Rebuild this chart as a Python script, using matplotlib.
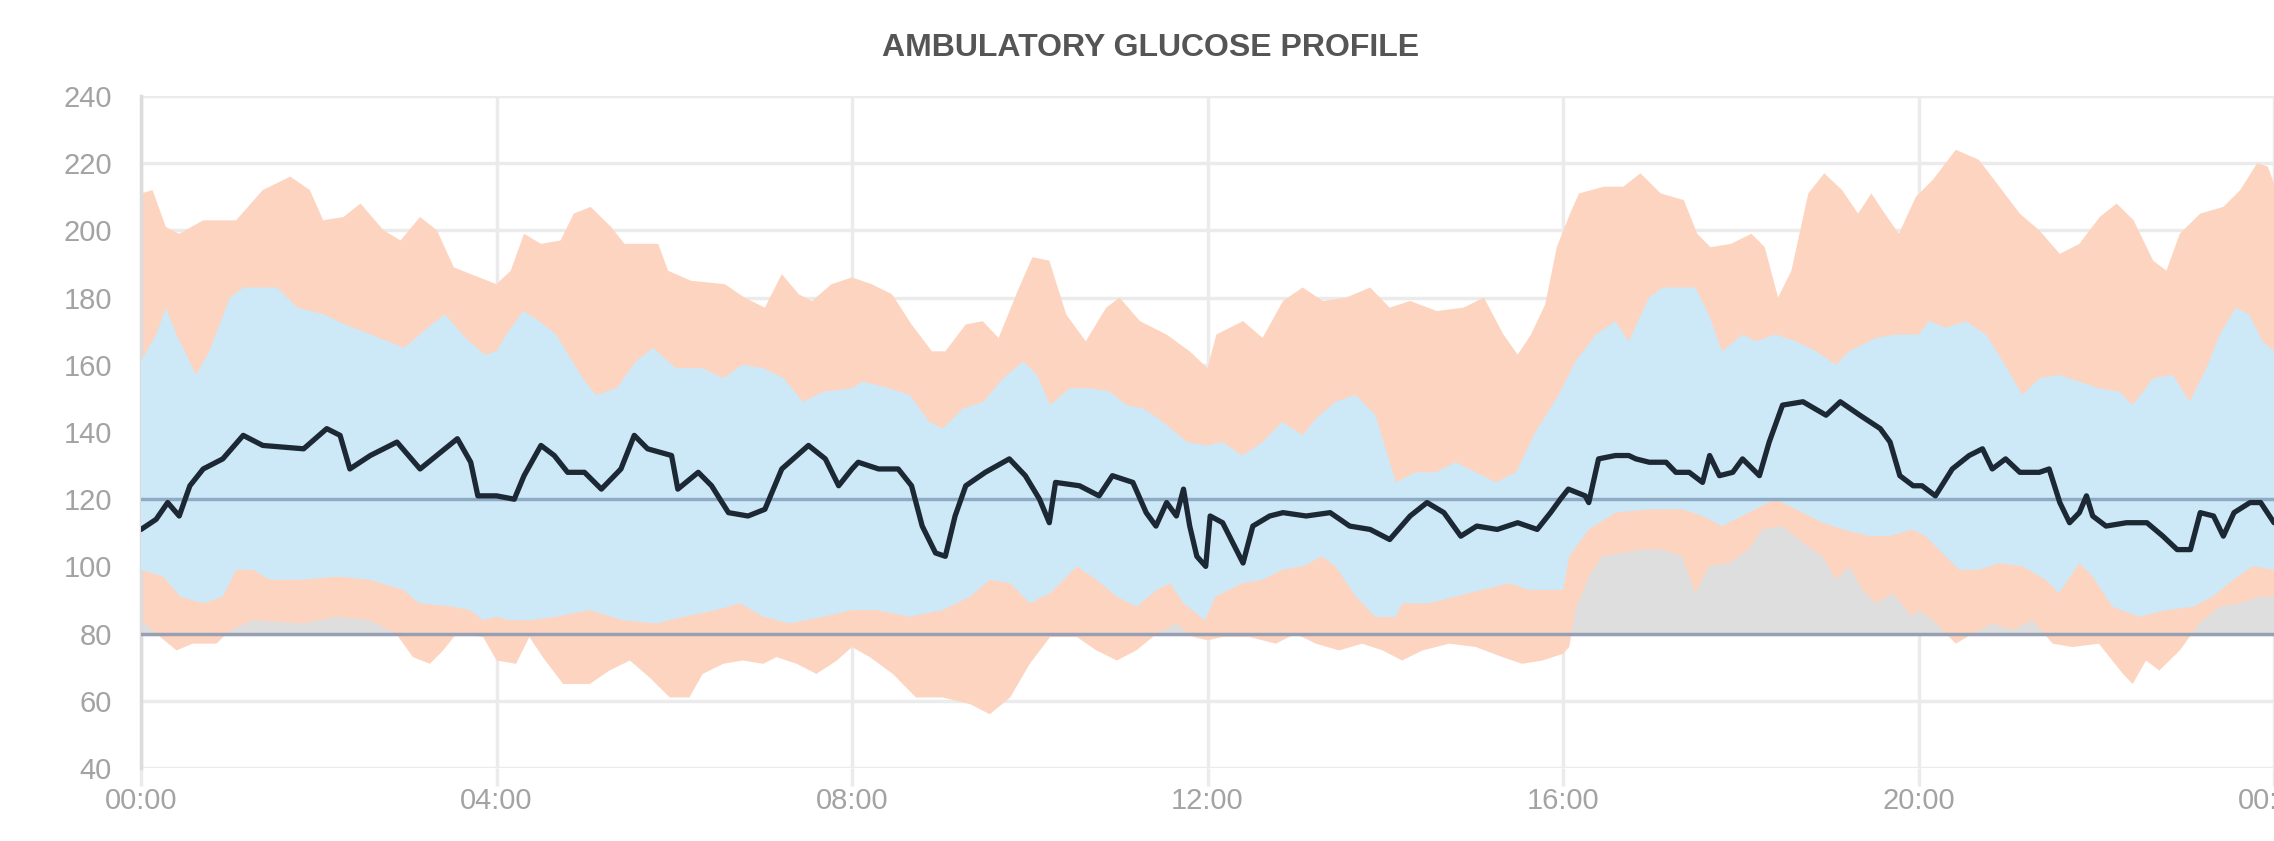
import numpy as np
import matplotlib
matplotlib.use("Agg")
import matplotlib.pyplot as plt

# hours of day (0-24) and mg/dL values
median_h = [0.0, 0.17, 0.30, 0.43, 0.55, 0.70, 0.92, 1.15, 1.37, 1.83, 2.09, 2.24, 2.35, 2.58, 2.88,
            3.14, 3.56, 3.71, 3.79, 4.0, 4.20, 4.31, 4.50, 4.65, 4.80, 4.99, 5.18, 5.40, 5.55, 5.70,
            5.97, 6.04, 6.27, 6.42, 6.61, 6.83, 7.02, 7.21, 7.51, 7.70, 7.85, 8.0, 8.07, 8.30, 8.52,
            8.67, 8.79, 8.94, 9.05, 9.16, 9.28, 9.50, 9.77, 9.95, 10.11, 10.22, 10.29, 10.56, 10.78,
            10.93, 11.16, 11.31, 11.42, 11.54, 11.65, 11.73, 11.80, 11.88, 11.98, 12.03, 12.17,
            12.40, 12.51, 12.70, 12.85, 13.11, 13.38, 13.60, 13.83, 14.05, 14.28, 14.47, 14.66,
            14.85, 15.03, 15.26, 15.49, 15.71, 15.86, 15.97, 16.06, 16.25, 16.29, 16.40, 16.59,
            16.74, 16.82, 16.97, 17.16, 17.27, 17.42, 17.57, 17.65, 17.76, 17.91, 18.02, 18.21,
            18.32, 18.47, 18.70, 18.96, 19.12, 19.34, 19.57, 19.68, 19.79, 19.94, 20.04, 20.19,
            20.38, 20.57, 20.72, 20.83, 20.98, 21.14, 21.36, 21.47, 21.59, 21.70, 21.81, 21.89,
            21.96, 22.11, 22.34, 22.57, 22.75, 22.91, 23.06, 23.17, 23.32, 23.43, 23.55, 23.73,
            23.85, 24.0]
median = [111, 114, 119, 115, 124, 129, 132, 139, 136, 135, 141, 139, 129, 133, 137,
          129, 138, 131, 121, 121, 120, 127, 136, 133, 128, 128, 123, 129, 139, 135,
          133, 123, 128, 124, 116, 115, 117, 129, 136, 132, 124, 129, 131, 129, 129,
          124, 112, 104, 103, 115, 124, 128, 132, 127, 120, 113, 125, 124, 121,
          127, 125, 116, 112, 119, 115, 123, 112, 103, 100, 115, 113,
          101, 112, 115, 116, 115, 116, 112, 111, 108, 115, 119, 116,
          109, 112, 111, 113, 111, 116, 120, 123, 121, 119, 132, 133,
          133, 132, 131, 131, 128, 128, 125, 133, 127, 128, 132, 127,
          137, 148, 149, 145, 149, 145, 141, 137, 127, 124, 124, 121,
          129, 133, 135, 129, 132, 128, 128, 129, 119, 113, 116, 121,
          115, 112, 113, 113, 109, 105, 105, 116, 115, 109, 116, 119,
          119, 113]

p95_h = [0.0, 0.13, 0.28, 0.43, 0.70, 1.07, 1.37, 1.68, 1.90, 2.05, 2.28, 2.47, 2.73, 2.92, 3.14,
         3.33, 3.52, 3.71, 4.0, 4.16, 4.31, 4.50, 4.72, 4.87, 5.06, 5.29, 5.44, 5.82, 5.93, 6.19,
         6.57, 6.79, 7.02, 7.21, 7.40, 7.55, 7.77, 8.0, 8.22, 8.45, 8.67, 8.90, 9.05, 9.28, 9.47,
         9.65, 9.88, 10.03, 10.22, 10.41, 10.63, 10.86, 11.01, 11.24, 11.54, 11.80, 12.0, 12.10,
         12.40, 12.62, 12.85, 13.07, 13.30, 13.56, 13.83, 14.05, 14.28, 14.58, 14.88, 15.11,
         15.33, 15.49, 15.64, 15.80, 15.93, 16.08, 16.18, 16.46, 16.68, 16.87, 17.10, 17.36,
         17.51, 17.66, 17.89, 18.12, 18.27, 18.42, 18.57, 18.76, 18.94, 19.14, 19.32, 19.47,
         19.62, 19.78, 19.97, 20.16, 20.42, 20.68, 20.91, 21.14, 21.36, 21.59, 21.81, 22.04,
         22.23, 22.42, 22.64, 22.79, 22.94, 23.17, 23.43, 23.62, 23.81, 23.93, 24.0]
p95 = [211, 212, 201, 199, 203, 203, 212, 216, 212, 203, 204, 208, 200, 197, 204,
       200, 189, 187, 184, 188, 199, 196, 197, 205, 207, 201, 196, 196, 188, 185,
       184, 180, 177, 187, 181, 179, 184, 186, 184, 181, 172, 164, 164, 172, 173,
       168, 183, 192, 191, 175, 167, 177, 180, 173, 169, 164, 159, 169,
       173, 168, 179, 183, 179, 180, 183, 177, 179, 176, 177, 180,
       169, 163, 169, 178, 195, 205, 211, 213, 213, 217, 211, 209,
       199, 195, 196, 199, 195, 180, 188, 211, 217, 212, 205, 211,
       205, 199, 210, 215, 224, 221, 213, 205, 200, 193, 196, 204,
       208, 203, 191, 188, 199, 205, 207, 212, 220, 219, 214]

p75_h = [0.0, 0.17, 0.28, 0.40, 0.62, 0.77, 1.0, 1.15, 1.53, 1.76, 2.06, 2.29, 2.59, 2.96, 3.27,
         3.42, 3.65, 3.87, 4.0, 4.11, 4.30, 4.48, 4.67, 4.97, 5.12, 5.35, 5.57, 5.76, 6.02, 6.32,
         6.55, 6.77, 7.0, 7.23, 7.45, 7.68, 8.0, 8.12, 8.42, 8.65, 8.87, 9.02, 9.25, 9.48, 9.70,
         9.93, 10.08, 10.23, 10.45, 10.68, 10.90, 11.09, 11.28, 11.50, 11.77, 12.0, 12.17, 12.39,
         12.62, 12.84, 13.07, 13.22, 13.44, 13.67, 13.89, 14.12, 14.34, 14.57, 14.79, 15.02,
         15.24, 15.47, 15.69, 15.95, 16.14, 16.37, 16.59, 16.74, 16.97, 17.12, 17.49, 17.64,
         17.79, 18.02, 18.17, 18.39, 18.62, 18.85, 19.07, 19.22, 19.52, 19.75, 20.0, 20.12,
         20.31, 20.53, 20.76, 20.95, 21.17, 21.36, 21.58, 21.81, 22.03, 22.26, 22.41, 22.64,
         22.86, 23.05, 23.24, 23.39, 23.57, 23.72, 23.87, 24.0]
p75 = [161, 169, 177, 169, 157, 164, 180, 183, 183, 177, 175, 172, 169, 165, 172,
       175, 168, 163, 164, 169, 176, 173, 169, 156, 151, 153, 161, 165, 159, 159,
       156, 160, 159, 156, 149, 152, 153, 155, 153, 151, 143, 141, 147, 149, 156,
       161, 157, 148, 153, 153, 152, 148, 147, 143, 137, 136, 137, 133,
       137, 143, 139, 144, 149, 151, 145, 125, 128, 128, 131, 128,
       125, 128, 140, 151, 161, 169, 173, 167, 180, 183, 183, 175,
       164, 169, 167, 169, 167, 164, 160, 164, 168, 169, 169, 173,
       171, 173, 169, 161, 151, 156, 157, 155, 153, 152, 148, 156,
       157, 149, 159, 169, 177, 175, 167, 164]

p25_h = [0.0, 0.25, 0.44, 0.70, 0.92, 1.07, 1.26, 1.45, 1.82, 2.20, 2.57, 2.95, 3.13, 3.51, 3.70,
         3.85, 4.0, 4.15, 4.37, 4.67, 5.05, 5.42, 5.80, 6.10, 6.47, 6.74, 7.0, 7.30, 7.68, 8.0,
         8.27, 8.65, 9.02, 9.33, 9.55, 9.78, 10.0, 10.23, 10.53, 10.75, 10.98, 11.20, 11.43,
         11.58, 11.73, 11.97, 12.09, 12.39, 12.62, 12.84, 13.07, 13.29, 13.44, 13.67, 13.89,
         14.12, 14.19, 14.49, 14.79, 15.09, 15.39, 15.62, 15.84, 16.0, 16.07, 16.29, 16.59,
         16.97, 17.34, 17.57, 17.79, 18.09, 18.39, 18.62, 18.92, 19.15, 19.45, 19.67, 19.93,
         20.08, 20.23, 20.46, 20.68, 20.91, 21.17, 21.43, 21.58, 21.81, 21.96, 22.18, 22.48,
         22.79, 23.09, 23.31, 23.54, 23.76, 24.0]
p25 = [99, 97, 91, 89, 91, 99, 99, 96, 96, 97, 96, 93, 89, 88, 87,
       84, 85, 84, 84, 85, 87, 84, 83, 85, 87, 89, 85, 83, 85, 87,
       87, 85, 87, 91, 96, 95, 89, 92, 100, 96, 91, 88, 93,
       95, 89, 84, 91, 95, 96, 99, 100, 103, 100, 91, 85,
       85, 89, 89, 91, 93, 95, 93, 93, 93, 103, 111, 116,
       117, 117, 115, 112, 116, 120, 117, 113, 111, 109, 109, 111,
       109, 105, 99, 99, 101, 100, 96, 92, 101, 97, 88, 85,
       87, 88, 91, 96, 100, 99]

p05_h = [0.0, 0.17, 0.40, 0.58, 0.85, 1.0, 1.26, 1.82, 2.20, 2.57, 2.87, 3.06, 3.25, 3.40, 3.55,
         3.85, 4.0, 4.22, 4.37, 4.52, 4.75, 5.05, 5.27, 5.50, 5.72, 5.95, 6.17, 6.32, 6.55, 6.77,
         7.0, 7.15, 7.38, 7.60, 7.83, 8.0, 8.20, 8.46, 8.72, 9.02, 9.33, 9.55, 9.78, 10.0, 10.23,
         10.53, 10.75, 10.98, 11.20, 11.43, 11.65, 11.84, 12.0, 12.17, 12.47, 12.77, 12.99, 13.22,
         13.48, 13.74, 13.97, 14.19, 14.42, 14.72, 15.02, 15.32, 15.54, 15.77, 16.0, 16.07,
         16.14, 16.29, 16.44, 16.67, 16.89, 17.12, 17.34, 17.49, 17.64, 17.87, 18.09, 18.24,
         18.47, 18.70, 18.92, 19.07, 19.22, 19.37, 19.52, 19.71, 19.93, 20.0, 20.16, 20.42,
         20.61, 20.83, 21.06, 21.28, 21.51, 21.73, 22.03, 22.30, 22.41, 22.56, 22.71, 22.94,
         23.16, 23.39, 23.61, 23.84, 24.0]
p05 = [84, 80, 75, 77, 77, 81, 84, 83, 85, 84, 80, 73, 71, 75, 80,
       79, 72, 71, 79, 73, 65, 65, 69, 72, 67, 61, 61, 68, 71, 72,
       71, 73, 71, 68, 72, 76, 73, 68, 61, 61, 59, 56, 61, 71, 79,
       79, 75, 72, 75, 80, 83, 79, 78, 79, 79, 77, 80, 77,
       75, 77, 75, 72, 75, 77, 76, 73, 71, 72, 74, 76,
       87, 97, 103, 104, 105, 105, 103, 92, 100, 101, 105, 111,
       112, 107, 103, 96, 100, 93, 89, 92, 85, 87, 84, 77,
       80, 83, 81, 84, 77, 76, 77, 68, 65, 72, 69, 75,
       83, 88, 89, 91, 91]

target_low, target_high = 80, 120
x_ticks = [0, 4, 8, 12, 16, 20, 24]
x_labels = ["00:00", "04:00", "08:00", "12:00", "16:00", "20:00", "00:00"]
y_ticks = list(range(40, 241, 20))

W, H = 2274, 841
fig = plt.figure(figsize=(W / 100, H / 100), dpi=100)
ax = fig.add_axes([141 / W, 1 - 768 / H, (W - 141) / W, (768 - 96) / H])

grid_color = "#ebebeb"
ax.axhspan(target_low, target_high, color="#dedede", lw=0, zorder=1)
ax.fill(np.concatenate([p95_h, p05_h[::-1]]), np.concatenate([p95, p05[::-1]]),
        color="#fdd4c0", lw=0, zorder=2)
ax.fill(np.concatenate([p75_h, p25_h[::-1]]), np.concatenate([p75, p25[::-1]]),
        color="#cde9f8", lw=0, zorder=3)
ax.axhline(target_high, color="#8eaac4", lw=2.5, zorder=4)
ax.axhline(target_low, color="#979fb3", lw=2.5, zorder=4)
ax.plot(median_h, median, color="#1c2834", lw=3.8, zorder=5,
        solid_joinstyle="round", solid_capstyle="round")

ax.set_xlim(0, 24)
ax.set_ylim(40, 240)
ax.set_xticks(x_ticks)
ax.set_xticklabels(x_labels)
ax.set_yticks(y_ticks)
ax.grid(True, color=grid_color, lw=2.5)
ax.set_axisbelow(True)
for side in ("top", "right", "bottom"):
    ax.spines[side].set_visible(False)
ax.spines["left"].set_color("#dcdcdc")
ax.spines["left"].set_linewidth(2.5)

for lab in ax.get_xticklabels() + ax.get_yticklabels():
    lab.set_fontfamily("Liberation Sans")
    lab.set_fontsize(21)
ax.tick_params(axis="x", length=13, width=2.5, color=grid_color, labelcolor="#a3a3a3", pad=1)
ax.tick_params(axis="y", length=0, labelcolor="#a3a3a3", pad=21)

fig.text(1151 / W, 1 - 48 / H, "AMBULATORY GLUCOSE PROFILE", ha="center", va="center",
         fontsize=23, fontweight="bold", color="#555555", family="Liberation Sans")

fig.savefig("out.png", dpi=100)
